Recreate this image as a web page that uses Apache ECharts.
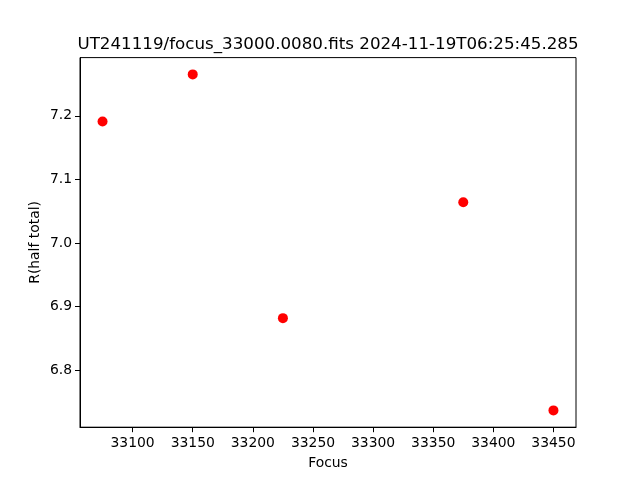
<!DOCTYPE html>
<html>
<head>
<meta charset="utf-8">
<script src="https://cdn.jsdelivr.net/npm/echarts@6/dist/echarts.min.js"></script>
<style>html,body{margin:0;padding:0;background:#fff}#c{width:640px;height:480px}</style>
</head>
<body>
<div id="c"></div>
<script>
const titleText = 'UT241119/focus_33000.0080.fits 2024-11-19T06:25:45.285';
const focus = [33075, 33150, 33225, 33375, 33450];
const rHalf = [7.191, 7.265, 6.882, 7.064, 6.737];
const xTicks = [33100, 33150, 33200, 33250, 33300, 33350, 33400, 33450];
const yTicks = [6.8, 6.9, 7.0, 7.1, 7.2];
const xName = 'Focus';
const yName = 'R(half total)';

const font = 'DejaVu Sans';
const chart = echarts.init(document.getElementById('c'), null, {renderer: 'canvas'});
const xSpan = Math.max(...focus) - Math.min(...focus);
const ySpan = Math.max(...rHalf) - Math.min(...rHalf);
chart.setOption({
  animation: false,
  backgroundColor: '#fff',
  graphic: [{
    type: 'text', x: 328, y: 44.5,
    style: {text: titleText, font: '16.7px "DejaVu Sans"', fill: '#000', align: 'center', verticalAlign: 'middle'}
  }],
  grid: {left: 80, right: 64, top: 57.6, bottom: 52.8, show: true, borderColor: '#000', borderWidth: 1, backgroundColor: 'transparent'},
  xAxis: {
    type: 'value',
    min: Math.min(...focus) - 0.05 * xSpan,
    max: Math.max(...focus) + 0.05 * xSpan,
    name: xName, nameLocation: 'middle', nameGap: 29,
    nameTextStyle: {fontFamily: font, fontSize: 13.9, color: '#000'},
    axisLine: {show: true, onZero: false, lineStyle: {color: '#000', width: 1}},
    axisTick: {show: true, inside: false, length: 5, customValues: xTicks, lineStyle: {color: '#000', width: 1}},
    axisLabel: {customValues: xTicks, margin: 9, fontFamily: font, fontSize: 13.9, color: '#000', formatter: v => String(v)},
    splitLine: {show: false}
  },
  yAxis: {
    type: 'value',
    min: Math.min(...rHalf) - 0.05 * ySpan,
    max: Math.max(...rHalf) + 0.05 * ySpan,
    name: yName, nameLocation: 'middle', nameGap: 38, nameMoveOverlap: false,
    nameTextStyle: {fontFamily: font, fontSize: 13.9, color: '#000'},
    axisLine: {show: true, onZero: false, lineStyle: {color: '#000', width: 1}},
    axisTick: {show: true, inside: false, length: 5, customValues: yTicks, lineStyle: {color: '#000', width: 1}},
    axisLabel: {customValues: yTicks, margin: 8, fontFamily: font, fontSize: 13.9, color: '#000', formatter: v => v.toFixed(1)},
    splitLine: {show: false}
  },
  series: [{
    type: 'scatter',
    symbol: 'circle',
    symbolSize: 10,
    itemStyle: {color: '#ff0000', opacity: 1},
    data: focus.map((f, i) => [f, rHalf[i]])
  }]
});
</script>
</body>
</html>
